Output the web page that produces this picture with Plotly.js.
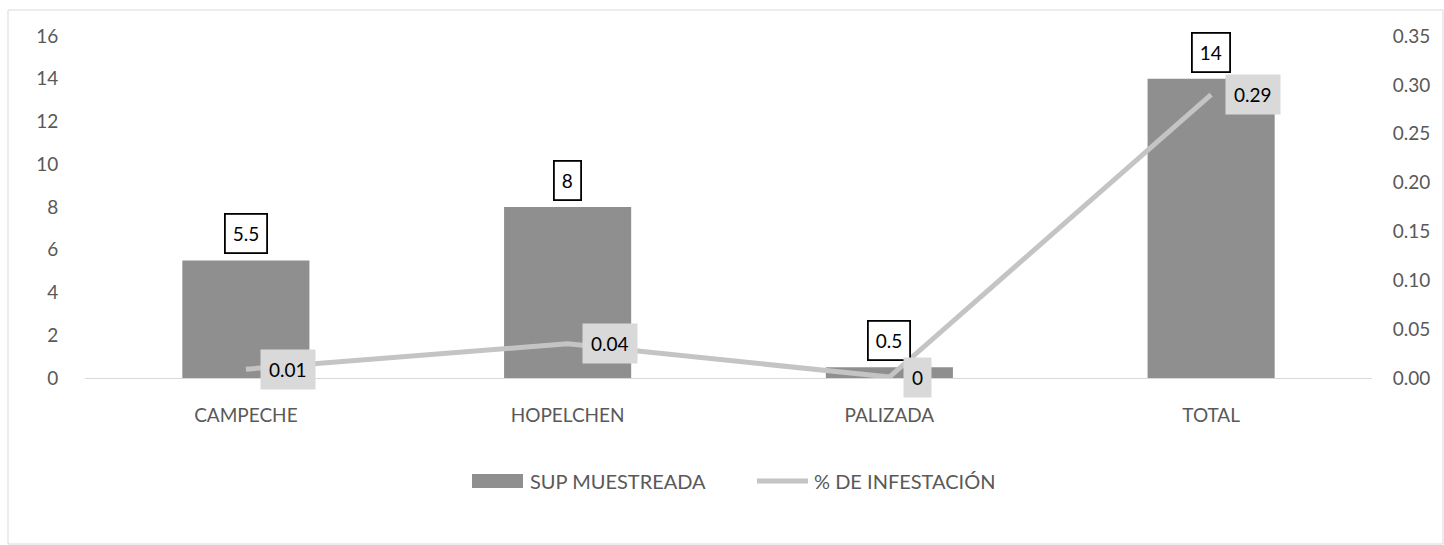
<!DOCTYPE html>
<html>
<head>
<meta charset="utf-8">
<script src="https://cdn.plot.ly/plotly-3.0.1.min.js"></script>
<style>html,body{margin:0;padding:0;background:#fff;}#chart{width:1444px;height:545px;}</style>
</head>
<body>
<div id="chart"></div>
<script>
const categories = ["CAMPECHE", "HOPELCHEN", "PALIZADA", "TOTAL"];
const supMuestreada = [5.5, 8, 0.5, 14];
const infestacion = [0.009, 0.035, 0.001, 0.29];
const leftTicks = [0, 2, 4, 6, 8, 10, 12, 14, 16];
const rightTicks = [0, 0.05, 0.10, 0.15, 0.20, 0.25, 0.30, 0.35];
const seriesNames = ["SUP MUESTREADA", "% DE INFESTACIÓN"];

const FONT = "Lato, 'Open Sans', sans-serif";
const TXT = "#595959";
const BAR = "#8f8f8f";
const LINE = "#c4c4c4";

// plot area geometry (px) used to place the legend/frame in paper coords
const L = 85, R = 72, T = 36, B = 167, W = 1444, H = 545;
const PW = W - L - R, PH = H - T - B;
const px = v => (v - L) / PW;
const py = v => (H - B - v) / PH;

const traces = [
  {
    type: "bar", name: seriesNames[0], x: categories, y: supMuestreada,
    marker: {color: BAR}, yaxis: "y", hoverinfo: "none", showlegend: false
  },
  {
    type: "scatter", mode: "lines", name: seriesNames[1], x: categories, y: infestacion,
    line: {color: LINE, width: 5}, yaxis: "y2", hoverinfo: "none", showlegend: false
  }
];

const annotations = [];
categories.forEach((c, i) => {
  annotations.push({
    x: c, y: supMuestreada[i], xref: "x", yref: "y",
    text: String(supMuestreada[i]), showarrow: false,
    yanchor: "bottom", yshift: 6,
    font: {family: FONT, size: 19, color: "#000"},
    bgcolor: "#fff", bordercolor: "#000", borderwidth: 1.8, borderpad: 7
  });
  annotations.push({
    x: c, y: infestacion[i], xref: "x", yref: "y2",
    text: String(Math.round(infestacion[i] * 100) / 100), showarrow: false,
    xanchor: "left", xshift: 14,
    font: {family: FONT, size: 19, color: "#000"},
    bgcolor: "#d9d9d9", borderpad: 8
  });
});

// legend texts
annotations.push({
  xref: "paper", yref: "paper", x: px(528), y: py(481), xanchor: "left", yanchor: "middle",
  text: seriesNames[0], showarrow: false, font: {family: FONT, size: 20, color: TXT}
});
annotations.push({
  xref: "paper", yref: "paper", x: px(812), y: py(481), xanchor: "left", yanchor: "middle",
  text: seriesNames[1], showarrow: false, font: {family: FONT, size: 20, color: TXT}
});

const layout = {
  width: W, height: H,
  margin: {l: L, r: R, t: T, b: B},
  paper_bgcolor: "#fff", plot_bgcolor: "#fff",
  showlegend: false,
  font: {family: FONT, size: 19, color: TXT},
  bargap: 0.605,
  xaxis: {
    type: "category", showgrid: false, zeroline: false,
    showline: true, linecolor: "#d9d9d9", linewidth: 1,
    ticks: "outside", ticklen: 20, tickcolor: "rgba(0,0,0,0)",
    tickfont: {family: FONT, size: 19, color: TXT}
  },
  yaxis: {
    range: [0, 16], tickvals: leftTicks, showgrid: false, zeroline: false,
    showline: false, ticks: "outside", ticklen: 22, tickcolor: "rgba(0,0,0,0)",
    tickfont: {family: FONT, size: 19, color: TXT}
  },
  yaxis2: {
    range: [0, 0.35], tickvals: rightTicks, tickformat: ".2f",
    overlaying: "y", side: "right", showgrid: false, zeroline: false,
    showline: false, ticks: "outside", ticklen: 16, tickcolor: "rgba(0,0,0,0)",
    tickfont: {family: FONT, size: 19, color: TXT}
  },
  annotations: annotations,
  shapes: [
    {
      type: "rect", xref: "paper", yref: "paper",
      x0: px(8), x1: px(1443), y0: py(544), y1: py(10),
      line: {color: "#d9d9d9", width: 1}, fillcolor: "rgba(0,0,0,0)", layer: "below"
    },
    {
      type: "rect", xref: "paper", yref: "paper",
      x0: px(472), x1: px(523), y0: py(488), y1: py(474),
      line: {width: 0}, fillcolor: BAR
    },
    {
      type: "line", xref: "paper", yref: "paper",
      x0: px(757), x1: px(808), y0: py(481), y1: py(481),
      line: {color: LINE, width: 5}
    }
  ]
};

Plotly.newPlot("chart", traces, layout, {displayModeBar: false, staticPlot: true});
</script>
</body>
</html>
